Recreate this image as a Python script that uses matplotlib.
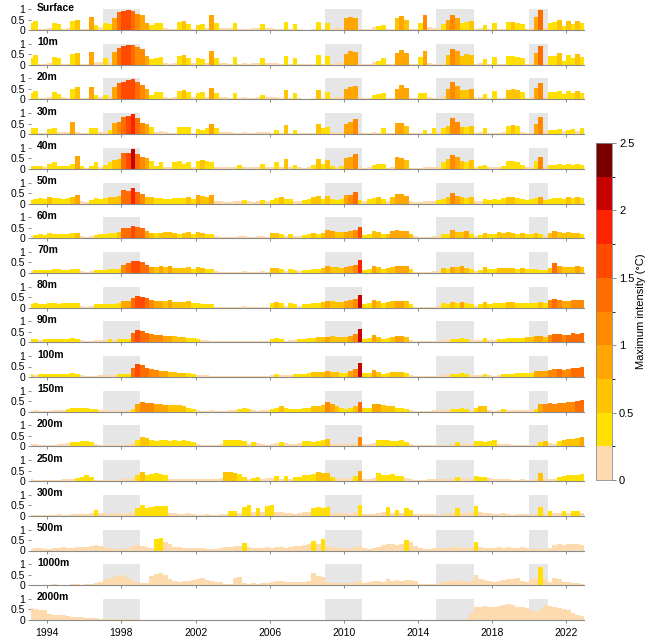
import numpy as np
import matplotlib

matplotlib.use("Agg")
import matplotlib.pyplot as plt
from matplotlib.cm import ScalarMappable
from matplotlib.colors import BoundaryNorm, ListedColormap

plt.rcParams["font.family"] = ["Liberation Sans", "DejaVu Sans"]

FIRST_YEAR = 1993  # quarterly values, Jan 1993 - Dec 2022
STEP = 0.25

DEPTHS = ["Surface", "10m", "20m", "30m", "40m", "50m", "60m", "70m", "80m",
          "90m", "100m", "150m", "200m", "250m", "300m", "500m", "1000m", "2000m"]

SHADED = [(1997, 1999), (2009, 2011), (2015, 2017), (2020, 2021)]
YEAR_TICKS = [1994, 1998, 2002, 2006, 2010, 2014, 2018, 2022]
BOUNDS = [0, 0.25, 0.5, 0.75, 1.0, 1.25, 1.5, 1.75, 2.0, 2.25, 2.5]
CBAR_TICKS = [0, 0.5, 1, 1.5, 2, 2.5]
COLORS = ["#fddbae", "#ffe000", "#ffc400", "#ffa600", "#ff8a00",
          "#ff6c00", "#ff4a00", "#ff2200", "#c80000", "#7a0000"]

# bar height per quarter
h_surface = [
    0.35, 0.45, 0.05, 0.05, 0.10, 0.35, 0.30, 0.05, 0.10, 0.45, 0.50, 0.05,
    0.05, 0.60, 0.25, 0.15, 0.35, 0.30, 0.55, 0.85, 0.90, 0.93, 0.90, 0.75,
    0.70, 0.35, 0.25, 0.35, 0.35, 0.10, 0.05, 0.05, 0.40, 0.45, 0.30, 0.05,
    0.25, 0.30, 0.10, 0.70, 0.35, 0.10, 0.10, 0.10, 0.35, 0.05, 0.05, 0.05,
    0.10, 0.10, 0.30, 0.10, 0.10, 0.05, 0.05, 0.40, 0.05, 0.30, 0.05, 0.02,
    0.02, 0.05, 0.40, 0.05, 0.35, 0.05, 0.15, 0.05, 0.55, 0.60, 0.55, 0.05,
    0.05, 0.05, 0.15, 0.20, 0.25, 0.05, 0.05, 0.55, 0.65, 0.50, 0.05, 0.05,
    0.35, 0.70, 0.15, 0.10, 0.05, 0.30, 0.50, 0.70, 0.55, 0.35, 0.40, 0.45,
    0.05, 0.10, 0.25, 0.05, 0.35, 0.05, 0.05, 0.40, 0.40, 0.35, 0.30, 0.05,
    0.10, 0.60, 0.95, 0.10, 0.35, 0.40, 0.50, 0.20, 0.45, 0.30, 0.45, 0.35,
]
# maximum intensity (deg C) per quarter
i_surface = [
    0.4, 0.4, 0.1, 0.1, 0.1, 0.4, 0.4, 0.1, 0.1, 0.4, 0.6, 0.1,
    0.1, 0.9, 0.4, 0.1, 0.4, 0.4, 0.9, 1.4, 1.6, 1.6, 1.4, 1.1,
    0.9, 0.9, 0.4, 0.4, 0.4, 0.1, 0.1, 0.1, 0.4, 0.6, 0.4, 0.1,
    0.4, 0.4, 0.1, 0.9, 0.4, 0.1, 0.1, 0.1, 0.4, 0.1, 0.1, 0.1,
    0.1, 0.1, 0.4, 0.1, 0.1, 0.1, 0.1, 0.4, 0.1, 0.4, 0.1, 0.1,
    0.1, 0.1, 0.4, 0.1, 0.4, 0.1, 0.1, 0.1, 0.9, 0.9, 0.9, 0.1,
    0.1, 0.1, 0.1, 0.4, 0.4, 0.1, 0.1, 0.6, 0.9, 0.6, 0.1, 0.1,
    0.4, 1.1, 0.1, 0.1, 0.1, 0.4, 0.9, 1.1, 0.9, 0.4, 0.4, 0.6,
    0.1, 0.1, 0.4, 0.1, 0.4, 0.1, 0.1, 0.4, 0.6, 0.4, 0.4, 0.1,
    0.1, 0.9, 1.4, 0.1, 0.4, 0.4, 0.6, 0.4, 0.6, 0.4, 0.6, 0.4,
]

h_10m = [
    0.30, 0.45, 0.05, 0.05, 0.10, 0.35, 0.30, 0.05, 0.05, 0.50, 0.55, 0.05,
    0.05, 0.60, 0.15, 0.15, 0.30, 0.10, 0.60, 0.80, 0.90, 0.92, 0.93, 0.85,
    0.75, 0.40, 0.25, 0.30, 0.35, 0.10, 0.05, 0.10, 0.40, 0.45, 0.30, 0.10,
    0.30, 0.25, 0.10, 0.65, 0.30, 0.10, 0.10, 0.05, 0.35, 0.05, 0.10, 0.05,
    0.10, 0.10, 0.30, 0.10, 0.10, 0.10, 0.05, 0.40, 0.05, 0.30, 0.05, 0.02,
    0.02, 0.05, 0.45, 0.05, 0.40, 0.05, 0.15, 0.10, 0.50, 0.65, 0.60, 0.05,
    0.05, 0.05, 0.15, 0.20, 0.30, 0.05, 0.05, 0.55, 0.70, 0.55, 0.05, 0.05,
    0.35, 0.65, 0.10, 0.05, 0.05, 0.10, 0.45, 0.75, 0.65, 0.40, 0.50, 0.45,
    0.05, 0.10, 0.25, 0.05, 0.35, 0.05, 0.05, 0.40, 0.40, 0.35, 0.30, 0.05,
    0.10, 0.55, 0.90, 0.10, 0.40, 0.40, 0.55, 0.20, 0.45, 0.30, 0.50, 0.35,
]
i_10m = [
    0.4, 0.4, 0.1, 0.1, 0.1, 0.4, 0.4, 0.1, 0.1, 0.4, 0.6, 0.1,
    0.1, 0.9, 0.1, 0.1, 0.4, 0.1, 0.9, 1.4, 1.6, 1.6, 1.4, 1.1,
    1.1, 0.9, 0.4, 0.4, 0.4, 0.1, 0.1, 0.1, 0.4, 0.6, 0.4, 0.1,
    0.4, 0.4, 0.1, 0.9, 0.4, 0.1, 0.1, 0.1, 0.4, 0.1, 0.1, 0.1,
    0.1, 0.1, 0.4, 0.1, 0.1, 0.1, 0.1, 0.4, 0.1, 0.4, 0.1, 0.1,
    0.1, 0.1, 0.4, 0.1, 0.4, 0.1, 0.1, 0.1, 0.9, 0.9, 0.9, 0.1,
    0.1, 0.1, 0.1, 0.4, 0.4, 0.1, 0.1, 0.9, 0.9, 0.9, 0.1, 0.1,
    0.4, 0.9, 0.1, 0.1, 0.1, 0.1, 0.6, 1.1, 0.9, 0.6, 0.6, 0.6,
    0.1, 0.1, 0.4, 0.1, 0.4, 0.1, 0.1, 0.4, 0.4, 0.4, 0.4, 0.1,
    0.1, 0.9, 1.4, 0.1, 0.4, 0.4, 0.6, 0.4, 0.4, 0.4, 0.6, 0.4,
]

h_20m = [
    0.30, 0.40, 0.05, 0.05, 0.10, 0.35, 0.25, 0.10, 0.05, 0.50, 0.60, 0.05,
    0.05, 0.60, 0.20, 0.10, 0.20, 0.15, 0.60, 0.80, 0.85, 0.90, 0.95, 0.85,
    0.70, 0.50, 0.20, 0.35, 0.35, 0.10, 0.05, 0.10, 0.40, 0.45, 0.35, 0.10,
    0.30, 0.35, 0.10, 0.55, 0.30, 0.10, 0.10, 0.05, 0.30, 0.05, 0.10, 0.05,
    0.05, 0.10, 0.20, 0.10, 0.10, 0.10, 0.05, 0.45, 0.05, 0.30, 0.05, 0.02,
    0.02, 0.05, 0.45, 0.05, 0.35, 0.05, 0.15, 0.10, 0.50, 0.60, 0.65, 0.05,
    0.05, 0.05, 0.20, 0.25, 0.30, 0.05, 0.05, 0.50, 0.70, 0.55, 0.05, 0.05,
    0.30, 0.30, 0.10, 0.05, 0.05, 0.15, 0.50, 0.85, 0.65, 0.45, 0.45, 0.50,
    0.05, 0.10, 0.25, 0.05, 0.40, 0.05, 0.05, 0.45, 0.50, 0.45, 0.35, 0.05,
    0.10, 0.55, 0.80, 0.10, 0.35, 0.35, 0.40, 0.25, 0.40, 0.30, 0.40, 0.30,
]
i_20m = [
    0.4, 0.4, 0.1, 0.1, 0.1, 0.4, 0.4, 0.1, 0.1, 0.4, 0.6, 0.1,
    0.1, 0.9, 0.4, 0.1, 0.4, 0.1, 0.9, 1.4, 1.6, 1.6, 1.6, 1.4,
    1.1, 0.9, 0.4, 0.4, 0.4, 0.1, 0.1, 0.1, 0.4, 0.6, 0.4, 0.1,
    0.4, 0.4, 0.1, 0.9, 0.4, 0.1, 0.1, 0.1, 0.4, 0.1, 0.1, 0.1,
    0.1, 0.1, 0.4, 0.1, 0.1, 0.1, 0.1, 0.6, 0.1, 0.4, 0.1, 0.1,
    0.1, 0.1, 0.6, 0.1, 0.4, 0.1, 0.1, 0.1, 0.9, 0.9, 0.9, 0.1,
    0.1, 0.1, 0.4, 0.4, 0.4, 0.1, 0.1, 0.9, 0.9, 0.9, 0.1, 0.1,
    0.4, 0.4, 0.1, 0.1, 0.1, 0.1, 0.9, 1.1, 0.9, 0.6, 0.6, 0.9,
    0.1, 0.1, 0.4, 0.1, 0.4, 0.1, 0.1, 0.6, 0.6, 0.6, 0.4, 0.1,
    0.1, 0.9, 1.1, 0.1, 0.4, 0.4, 0.4, 0.4, 0.4, 0.4, 0.6, 0.4,
]

h_30m = [
    0.30, 0.30, 0.05, 0.05, 0.25, 0.30, 0.10, 0.10, 0.10, 0.60, 0.10, 0.05,
    0.05, 0.30, 0.30, 0.10, 0.10, 0.20, 0.55, 0.60, 0.80, 0.85, 0.95, 0.75,
    0.55, 0.50, 0.35, 0.10, 0.15, 0.10, 0.05, 0.05, 0.35, 0.35, 0.35, 0.05,
    0.25, 0.20, 0.30, 0.50, 0.30, 0.10, 0.10, 0.10, 0.05, 0.05, 0.10, 0.05,
    0.05, 0.10, 0.10, 0.10, 0.05, 0.20, 0.05, 0.45, 0.05, 0.20, 0.05, 0.05,
    0.05, 0.05, 0.50, 0.30, 0.35, 0.10, 0.05, 0.10, 0.50, 0.60, 0.70, 0.10,
    0.05, 0.05, 0.10, 0.05, 0.30, 0.05, 0.05, 0.55, 0.55, 0.40, 0.05, 0.05,
    0.05, 0.20, 0.05, 0.30, 0.10, 0.30, 0.40, 0.75, 0.60, 0.35, 0.35, 0.40,
    0.05, 0.10, 0.30, 0.05, 0.05, 0.05, 0.10, 0.40, 0.45, 0.40, 0.10, 0.05,
    0.05, 0.50, 0.80, 0.10, 0.20, 0.20, 0.25, 0.15, 0.20, 0.25, 0.15, 0.30,
]
i_30m = [
    0.4, 0.4, 0.1, 0.1, 0.4, 0.4, 0.1, 0.1, 0.1, 0.9, 0.1, 0.1,
    0.1, 0.4, 0.4, 0.1, 0.1, 0.4, 0.9, 1.1, 1.4, 1.6, 1.9, 1.4,
    1.1, 0.9, 0.4, 0.1, 0.1, 0.1, 0.1, 0.1, 0.4, 0.4, 0.4, 0.1,
    0.4, 0.4, 0.4, 0.9, 0.4, 0.1, 0.1, 0.1, 0.1, 0.1, 0.1, 0.1,
    0.1, 0.1, 0.1, 0.1, 0.1, 0.4, 0.1, 0.6, 0.1, 0.4, 0.1, 0.1,
    0.1, 0.1, 0.6, 0.4, 0.4, 0.1, 0.1, 0.1, 0.9, 0.9, 1.1, 0.1,
    0.1, 0.1, 0.1, 0.1, 0.4, 0.1, 0.1, 0.9, 0.9, 0.6, 0.1, 0.1,
    0.1, 0.4, 0.1, 0.4, 0.1, 0.4, 0.6, 1.1, 1.1, 0.6, 0.4, 0.6,
    0.1, 0.1, 0.4, 0.1, 0.1, 0.1, 0.1, 0.4, 0.6, 0.4, 0.1, 0.1,
    0.1, 0.9, 1.1, 0.1, 0.4, 0.4, 0.4, 0.1, 0.4, 0.4, 0.1, 0.4,
]

h_40m = [
    0.15, 0.15, 0.15, 0.10, 0.25, 0.30, 0.15, 0.15, 0.15, 0.25, 0.60, 0.15,
    0.05, 0.15, 0.30, 0.10, 0.20, 0.30, 0.40, 0.45, 0.75, 0.75, 0.95, 0.70,
    0.55, 0.50, 0.35, 0.15, 0.30, 0.10, 0.10, 0.30, 0.35, 0.25, 0.30, 0.10,
    0.35, 0.40, 0.35, 0.30, 0.10, 0.10, 0.10, 0.10, 0.10, 0.20, 0.10, 0.10,
    0.10, 0.10, 0.25, 0.10, 0.10, 0.30, 0.10, 0.45, 0.10, 0.20, 0.10, 0.05,
    0.10, 0.20, 0.45, 0.25, 0.40, 0.15, 0.10, 0.15, 0.50, 0.55, 0.70, 0.10,
    0.05, 0.10, 0.20, 0.25, 0.25, 0.05, 0.10, 0.55, 0.50, 0.40, 0.05, 0.05,
    0.05, 0.10, 0.10, 0.10, 0.10, 0.30, 0.45, 0.65, 0.55, 0.35, 0.30, 0.40,
    0.10, 0.15, 0.20, 0.10, 0.10, 0.10, 0.15, 0.35, 0.35, 0.30, 0.20, 0.10,
    0.10, 0.35, 0.55, 0.10, 0.20, 0.20, 0.25, 0.20, 0.25, 0.20, 0.25, 0.20,
]
i_40m = [
    0.4, 0.4, 0.4, 0.1, 0.4, 0.4, 0.4, 0.4, 0.4, 0.4, 0.9, 0.4,
    0.1, 0.4, 0.4, 0.1, 0.4, 0.4, 0.6, 0.6, 1.4, 1.6, 2.1, 1.4,
    1.1, 0.9, 0.4, 0.4, 0.4, 0.1, 0.1, 0.4, 0.4, 0.4, 0.4, 0.1,
    0.4, 0.6, 0.4, 0.4, 0.1, 0.1, 0.1, 0.1, 0.1, 0.4, 0.1, 0.1,
    0.1, 0.1, 0.4, 0.1, 0.1, 0.4, 0.1, 0.6, 0.1, 0.4, 0.1, 0.1,
    0.1, 0.4, 0.6, 0.4, 0.6, 0.4, 0.1, 0.4, 0.9, 0.9, 1.1, 0.1,
    0.1, 0.1, 0.4, 0.4, 0.4, 0.1, 0.1, 0.9, 0.9, 0.6, 0.1, 0.1,
    0.1, 0.1, 0.1, 0.1, 0.1, 0.4, 0.6, 1.1, 0.9, 0.6, 0.4, 0.6,
    0.1, 0.4, 0.4, 0.1, 0.1, 0.1, 0.4, 0.4, 0.4, 0.4, 0.4, 0.1,
    0.1, 0.4, 1.1, 0.1, 0.4, 0.4, 0.4, 0.4, 0.4, 0.4, 0.4, 0.4,
]

h_50m = [
    0.15, 0.20, 0.25, 0.20, 0.30, 0.25, 0.25, 0.20, 0.25, 0.30, 0.40, 0.10,
    0.05, 0.15, 0.25, 0.20, 0.25, 0.30, 0.30, 0.35, 0.65, 0.60, 0.75, 0.55,
    0.45, 0.30, 0.30, 0.25, 0.25, 0.20, 0.20, 0.25, 0.25, 0.25, 0.30, 0.20,
    0.40, 0.35, 0.30, 0.40, 0.10, 0.10, 0.05, 0.05, 0.10, 0.10, 0.15, 0.10,
    0.05, 0.10, 0.15, 0.10, 0.15, 0.25, 0.30, 0.20, 0.20, 0.10, 0.10, 0.15,
    0.20, 0.30, 0.35, 0.20, 0.35, 0.20, 0.15, 0.20, 0.40, 0.40, 0.55, 0.15,
    0.10, 0.20, 0.25, 0.30, 0.20, 0.10, 0.30, 0.45, 0.45, 0.35, 0.10, 0.05,
    0.05, 0.10, 0.10, 0.10, 0.15, 0.20, 0.30, 0.50, 0.35, 0.30, 0.25, 0.30,
    0.10, 0.10, 0.20, 0.15, 0.20, 0.15, 0.25, 0.30, 0.30, 0.25, 0.20, 0.15,
    0.20, 0.25, 0.30, 0.15, 0.20, 0.25, 0.25, 0.20, 0.30, 0.25, 0.30, 0.25,
]
i_50m = [
    0.4, 0.4, 0.4, 0.4, 0.6, 0.4, 0.4, 0.4, 0.4, 0.6, 0.9, 0.1,
    0.1, 0.4, 0.4, 0.4, 0.4, 0.6, 0.6, 0.6, 1.4, 1.4, 1.9, 1.4,
    1.1, 0.6, 0.6, 0.4, 0.4, 0.4, 0.4, 0.4, 0.4, 0.4, 0.6, 0.4,
    0.9, 0.6, 0.6, 0.9, 0.1, 0.1, 0.1, 0.1, 0.1, 0.1, 0.4, 0.1,
    0.1, 0.1, 0.4, 0.1, 0.4, 0.4, 0.6, 0.4, 0.4, 0.1, 0.1, 0.4,
    0.4, 0.6, 0.6, 0.4, 0.6, 0.4, 0.4, 0.4, 0.9, 1.1, 1.4, 0.4,
    0.1, 0.4, 0.4, 0.6, 0.4, 0.1, 0.6, 0.9, 0.9, 0.9, 0.1, 0.1,
    0.1, 0.1, 0.1, 0.1, 0.4, 0.4, 0.6, 1.1, 0.9, 0.6, 0.4, 0.6,
    0.1, 0.1, 0.4, 0.4, 0.4, 0.4, 0.4, 0.6, 0.6, 0.4, 0.4, 0.4,
    0.4, 0.4, 0.9, 0.4, 0.4, 0.4, 0.4, 0.4, 0.6, 0.4, 0.6, 0.4,
]

h_60m = [
    0.10, 0.15, 0.20, 0.15, 0.25, 0.20, 0.20, 0.20, 0.20, 0.25, 0.25, 0.10,
    0.05, 0.10, 0.15, 0.20, 0.20, 0.25, 0.25, 0.30, 0.50, 0.50, 0.60, 0.55,
    0.50, 0.35, 0.25, 0.25, 0.25, 0.30, 0.30, 0.25, 0.20, 0.25, 0.30, 0.20,
    0.30, 0.25, 0.20, 0.20, 0.10, 0.05, 0.05, 0.05, 0.05, 0.10, 0.10, 0.05,
    0.05, 0.10, 0.10, 0.05, 0.25, 0.25, 0.20, 0.10, 0.20, 0.10, 0.10, 0.15,
    0.20, 0.25, 0.20, 0.25, 0.40, 0.35, 0.30, 0.30, 0.30, 0.35, 0.40, 0.55,
    0.15, 0.20, 0.35, 0.30, 0.20, 0.20, 0.35, 0.40, 0.35, 0.35, 0.20, 0.10,
    0.05, 0.05, 0.05, 0.10, 0.10, 0.20, 0.20, 0.40, 0.30, 0.30, 0.35, 0.20,
    0.10, 0.15, 0.25, 0.20, 0.20, 0.30, 0.25, 0.30, 0.25, 0.20, 0.25, 0.20,
    0.20, 0.25, 0.20, 0.10, 0.25, 0.35, 0.30, 0.25, 0.30, 0.25, 0.25, 0.20,
]
i_60m = [
    0.1, 0.4, 0.4, 0.4, 0.4, 0.4, 0.4, 0.4, 0.4, 0.4, 0.6, 0.1,
    0.1, 0.1, 0.4, 0.4, 0.4, 0.4, 0.4, 0.6, 1.4, 1.4, 1.6, 1.4,
    1.4, 0.9, 0.6, 0.4, 0.6, 0.6, 0.6, 0.6, 0.4, 0.6, 0.6, 0.4,
    0.6, 0.6, 0.4, 0.4, 0.1, 0.1, 0.1, 0.1, 0.1, 0.1, 0.1, 0.1,
    0.1, 0.1, 0.1, 0.1, 0.6, 0.6, 0.4, 0.1, 0.4, 0.1, 0.1, 0.4,
    0.4, 0.6, 0.4, 0.6, 0.9, 0.9, 0.6, 0.6, 0.9, 0.9, 1.1, 1.6,
    0.4, 0.4, 0.6, 0.6, 0.4, 0.6, 0.9, 0.9, 0.9, 0.9, 0.6, 0.1,
    0.1, 0.1, 0.1, 0.1, 0.1, 0.4, 0.4, 0.9, 0.6, 0.6, 0.9, 0.4,
    0.1, 0.4, 0.6, 0.4, 0.4, 0.6, 0.6, 0.6, 0.6, 0.4, 0.6, 0.4,
    0.4, 0.6, 0.4, 0.1, 0.6, 0.9, 0.6, 0.6, 0.6, 0.6, 0.6, 0.4,
]

h_70m = [
    0.10, 0.15, 0.15, 0.15, 0.15, 0.20, 0.20, 0.15, 0.15, 0.20, 0.20, 0.10,
    0.05, 0.10, 0.15, 0.15, 0.15, 0.20, 0.20, 0.20, 0.40, 0.45, 0.55, 0.55,
    0.50, 0.40, 0.30, 0.30, 0.35, 0.30, 0.35, 0.25, 0.25, 0.25, 0.30, 0.20,
    0.30, 0.25, 0.20, 0.20, 0.10, 0.05, 0.05, 0.05, 0.05, 0.05, 0.10, 0.05,
    0.05, 0.05, 0.10, 0.05, 0.25, 0.25, 0.20, 0.10, 0.20, 0.15, 0.10, 0.15,
    0.15, 0.20, 0.20, 0.25, 0.35, 0.30, 0.30, 0.25, 0.30, 0.35, 0.40, 0.60,
    0.15, 0.20, 0.35, 0.30, 0.20, 0.25, 0.30, 0.35, 0.35, 0.35, 0.20, 0.05,
    0.05, 0.05, 0.05, 0.10, 0.10, 0.25, 0.20, 0.30, 0.30, 0.35, 0.25, 0.20,
    0.10, 0.15, 0.30, 0.20, 0.20, 0.25, 0.25, 0.25, 0.25, 0.20, 0.25, 0.20,
    0.20, 0.20, 0.15, 0.15, 0.25, 0.45, 0.35, 0.30, 0.30, 0.30, 0.35, 0.30,
]
i_70m = [
    0.1, 0.4, 0.4, 0.4, 0.4, 0.4, 0.4, 0.4, 0.4, 0.4, 0.4, 0.1,
    0.1, 0.1, 0.4, 0.4, 0.4, 0.4, 0.4, 0.4, 1.1, 1.4, 1.6, 1.6,
    1.4, 1.4, 0.9, 0.6, 0.9, 0.6, 0.9, 0.6, 0.6, 0.6, 0.6, 0.4,
    0.6, 0.6, 0.4, 0.4, 0.1, 0.1, 0.1, 0.1, 0.1, 0.1, 0.1, 0.1,
    0.1, 0.1, 0.1, 0.1, 0.6, 0.6, 0.4, 0.1, 0.4, 0.4, 0.1, 0.4,
    0.4, 0.4, 0.4, 0.6, 0.9, 0.6, 0.6, 0.6, 0.9, 0.9, 1.1, 1.9,
    0.4, 0.4, 0.9, 0.6, 0.4, 0.6, 0.6, 0.9, 0.9, 0.9, 0.4, 0.1,
    0.1, 0.1, 0.1, 0.1, 0.1, 0.6, 0.4, 0.9, 0.6, 0.9, 0.6, 0.4,
    0.1, 0.4, 0.6, 0.4, 0.4, 0.6, 0.6, 0.6, 0.6, 0.4, 0.6, 0.4,
    0.4, 0.4, 0.4, 0.4, 0.6, 1.4, 0.9, 0.6, 0.6, 0.6, 0.9, 0.6,
]

h_80m = [
    0.15, 0.20, 0.15, 0.15, 0.20, 0.20, 0.15, 0.20, 0.20, 0.20, 0.20, 0.10,
    0.05, 0.10, 0.15, 0.15, 0.15, 0.15, 0.15, 0.20, 0.30, 0.30, 0.45, 0.55,
    0.50, 0.45, 0.35, 0.30, 0.30, 0.30, 0.35, 0.25, 0.25, 0.25, 0.30, 0.20,
    0.20, 0.15, 0.15, 0.15, 0.05, 0.05, 0.05, 0.05, 0.05, 0.05, 0.10, 0.05,
    0.05, 0.05, 0.05, 0.05, 0.20, 0.25, 0.20, 0.10, 0.20, 0.15, 0.10, 0.15,
    0.15, 0.20, 0.20, 0.25, 0.30, 0.30, 0.25, 0.25, 0.30, 0.35, 0.40, 0.60,
    0.15, 0.20, 0.35, 0.30, 0.20, 0.25, 0.30, 0.30, 0.30, 0.30, 0.15, 0.05,
    0.05, 0.05, 0.05, 0.05, 0.10, 0.20, 0.15, 0.25, 0.20, 0.25, 0.20, 0.15,
    0.10, 0.15, 0.25, 0.15, 0.20, 0.20, 0.20, 0.25, 0.25, 0.20, 0.20, 0.20,
    0.20, 0.20, 0.25, 0.20, 0.35, 0.40, 0.35, 0.30, 0.30, 0.35, 0.35, 0.35,
]
i_80m = [
    0.4, 0.4, 0.4, 0.4, 0.4, 0.4, 0.4, 0.4, 0.4, 0.4, 0.4, 0.1,
    0.1, 0.1, 0.4, 0.4, 0.4, 0.4, 0.4, 0.4, 0.9, 0.9, 1.4, 1.6,
    1.6, 1.4, 1.1, 0.9, 0.9, 0.6, 0.9, 0.6, 0.6, 0.6, 0.6, 0.4,
    0.4, 0.4, 0.4, 0.4, 0.1, 0.1, 0.1, 0.1, 0.1, 0.1, 0.1, 0.1,
    0.1, 0.1, 0.1, 0.1, 0.4, 0.6, 0.4, 0.1, 0.4, 0.4, 0.1, 0.4,
    0.4, 0.4, 0.4, 0.6, 0.9, 0.6, 0.6, 0.6, 0.9, 0.9, 1.1, 2.1,
    0.4, 0.4, 0.9, 0.6, 0.4, 0.6, 0.6, 0.9, 0.9, 0.6, 0.4, 0.1,
    0.1, 0.1, 0.1, 0.1, 0.1, 0.4, 0.4, 0.6, 0.4, 0.9, 0.4, 0.4,
    0.1, 0.4, 0.6, 0.4, 0.4, 0.4, 0.4, 0.6, 0.6, 0.4, 0.4, 0.4,
    0.4, 0.4, 0.6, 0.4, 1.1, 1.4, 1.1, 0.9, 0.9, 1.1, 1.1, 1.1,
]

h_90m = [
    0.15, 0.15, 0.10, 0.15, 0.15, 0.15, 0.15, 0.15, 0.15, 0.20, 0.15, 0.10,
    0.05, 0.05, 0.10, 0.10, 0.10, 0.15, 0.10, 0.15, 0.15, 0.15, 0.45, 0.60,
    0.55, 0.45, 0.40, 0.35, 0.35, 0.30, 0.30, 0.30, 0.25, 0.25, 0.20, 0.20,
    0.15, 0.10, 0.10, 0.05, 0.05, 0.05, 0.05, 0.05, 0.05, 0.05, 0.05, 0.05,
    0.05, 0.05, 0.05, 0.05, 0.15, 0.20, 0.15, 0.05, 0.10, 0.10, 0.15, 0.15,
    0.20, 0.20, 0.25, 0.25, 0.25, 0.30, 0.25, 0.25, 0.25, 0.30, 0.40, 0.65,
    0.15, 0.20, 0.35, 0.25, 0.15, 0.20, 0.25, 0.30, 0.30, 0.25, 0.10, 0.05,
    0.05, 0.05, 0.05, 0.05, 0.05, 0.10, 0.10, 0.15, 0.15, 0.20, 0.15, 0.10,
    0.10, 0.10, 0.20, 0.10, 0.10, 0.15, 0.15, 0.20, 0.20, 0.20, 0.20, 0.25,
    0.25, 0.30, 0.30, 0.25, 0.35, 0.40, 0.40, 0.35, 0.35, 0.45, 0.40, 0.45,
]
i_90m = [
    0.4, 0.4, 0.1, 0.4, 0.4, 0.4, 0.4, 0.4, 0.4, 0.4, 0.4, 0.1,
    0.1, 0.1, 0.1, 0.1, 0.1, 0.4, 0.1, 0.4, 0.4, 0.4, 1.4, 1.6,
    1.4, 1.4, 1.1, 1.1, 1.1, 0.9, 0.9, 0.6, 0.6, 0.6, 0.4, 0.4,
    0.4, 0.1, 0.1, 0.1, 0.1, 0.1, 0.1, 0.1, 0.1, 0.1, 0.1, 0.1,
    0.1, 0.1, 0.1, 0.1, 0.4, 0.4, 0.4, 0.1, 0.1, 0.1, 0.4, 0.4,
    0.4, 0.4, 0.6, 0.6, 0.9, 0.6, 0.6, 0.6, 0.6, 0.9, 1.1, 2.1,
    0.4, 0.4, 0.9, 0.6, 0.4, 0.4, 0.6, 0.9, 0.9, 0.6, 0.1, 0.1,
    0.1, 0.1, 0.1, 0.1, 0.1, 0.1, 0.1, 0.4, 0.4, 0.4, 0.4, 0.1,
    0.1, 0.1, 0.4, 0.1, 0.1, 0.4, 0.4, 0.4, 0.4, 0.4, 0.4, 0.6,
    0.6, 0.9, 0.9, 0.6, 1.1, 1.4, 1.4, 1.1, 1.4, 1.4, 1.4, 1.4,
]

h_100m = [
    0.15, 0.10, 0.15, 0.15, 0.15, 0.15, 0.15, 0.15, 0.15, 0.20, 0.15, 0.10,
    0.05, 0.05, 0.05, 0.10, 0.10, 0.10, 0.10, 0.15, 0.15, 0.15, 0.45, 0.60,
    0.55, 0.45, 0.40, 0.35, 0.30, 0.30, 0.25, 0.25, 0.20, 0.20, 0.20, 0.15,
    0.10, 0.10, 0.10, 0.05, 0.05, 0.05, 0.05, 0.05, 0.05, 0.05, 0.05, 0.05,
    0.05, 0.05, 0.05, 0.05, 0.10, 0.15, 0.10, 0.10, 0.10, 0.15, 0.15, 0.15,
    0.20, 0.25, 0.25, 0.25, 0.30, 0.25, 0.25, 0.20, 0.20, 0.30, 0.40, 0.65,
    0.20, 0.20, 0.35, 0.25, 0.15, 0.20, 0.25, 0.25, 0.25, 0.20, 0.10, 0.05,
    0.05, 0.05, 0.05, 0.05, 0.05, 0.10, 0.10, 0.15, 0.15, 0.20, 0.15, 0.10,
    0.10, 0.10, 0.15, 0.10, 0.05, 0.10, 0.15, 0.15, 0.15, 0.20, 0.20, 0.20,
    0.20, 0.30, 0.30, 0.30, 0.35, 0.40, 0.40, 0.35, 0.40, 0.45, 0.45, 0.50,
]
i_100m = [
    0.4, 0.1, 0.4, 0.4, 0.4, 0.4, 0.4, 0.4, 0.4, 0.4, 0.4, 0.1,
    0.1, 0.1, 0.1, 0.1, 0.1, 0.1, 0.1, 0.4, 0.4, 0.4, 1.4, 1.6,
    1.4, 1.4, 1.1, 1.1, 0.9, 0.9, 0.6, 0.6, 0.6, 0.6, 0.4, 0.4,
    0.1, 0.1, 0.1, 0.1, 0.1, 0.1, 0.1, 0.1, 0.1, 0.1, 0.1, 0.1,
    0.1, 0.1, 0.1, 0.1, 0.1, 0.4, 0.1, 0.1, 0.1, 0.4, 0.4, 0.4,
    0.4, 0.6, 0.6, 0.6, 0.9, 0.6, 0.6, 0.4, 0.4, 0.9, 1.1, 2.1,
    0.4, 0.4, 0.9, 0.6, 0.4, 0.4, 0.6, 0.6, 0.6, 0.4, 0.1, 0.1,
    0.1, 0.1, 0.1, 0.1, 0.1, 0.1, 0.1, 0.4, 0.4, 0.4, 0.4, 0.1,
    0.1, 0.1, 0.4, 0.1, 0.1, 0.1, 0.4, 0.4, 0.4, 0.4, 0.4, 0.4,
    0.4, 0.9, 0.9, 0.9, 1.1, 1.1, 1.4, 1.1, 1.1, 1.4, 1.4, 1.4,
]

h_150m = [
    0.05, 0.10, 0.05, 0.05, 0.05, 0.10, 0.10, 0.10, 0.15, 0.20, 0.20, 0.20,
    0.20, 0.15, 0.15, 0.10, 0.10, 0.05, 0.05, 0.10, 0.05, 0.10, 0.15, 0.35,
    0.45, 0.40, 0.40, 0.35, 0.35, 0.30, 0.30, 0.30, 0.30, 0.25, 0.20, 0.15,
    0.10, 0.05, 0.05, 0.10, 0.05, 0.05, 0.05, 0.10, 0.10, 0.15, 0.20, 0.15,
    0.10, 0.05, 0.10, 0.10, 0.15, 0.20, 0.25, 0.20, 0.15, 0.15, 0.15, 0.20,
    0.20, 0.25, 0.25, 0.30, 0.45, 0.35, 0.25, 0.20, 0.15, 0.20, 0.25, 0.45,
    0.20, 0.20, 0.35, 0.35, 0.30, 0.25, 0.25, 0.20, 0.20, 0.15, 0.10, 0.05,
    0.05, 0.05, 0.05, 0.10, 0.10, 0.10, 0.10, 0.15, 0.15, 0.20, 0.15, 0.10,
    0.20, 0.25, 0.25, 0.10, 0.05, 0.10, 0.15, 0.10, 0.10, 0.10, 0.10, 0.10,
    0.10, 0.15, 0.35, 0.35, 0.40, 0.35, 0.40, 0.40, 0.45, 0.45, 0.50, 0.55,
]
i_150m = [
    0.1, 0.1, 0.1, 0.1, 0.1, 0.1, 0.1, 0.1, 0.4, 0.4, 0.4, 0.4,
    0.4, 0.4, 0.4, 0.1, 0.1, 0.1, 0.1, 0.1, 0.1, 0.1, 0.4, 0.9,
    1.1, 1.1, 1.1, 0.9, 0.9, 0.9, 0.6, 0.6, 0.6, 0.6, 0.4, 0.4,
    0.1, 0.1, 0.1, 0.1, 0.1, 0.1, 0.1, 0.1, 0.1, 0.4, 0.4, 0.4,
    0.1, 0.1, 0.1, 0.1, 0.4, 0.4, 0.6, 0.4, 0.4, 0.4, 0.4, 0.4,
    0.4, 0.6, 0.6, 0.6, 1.1, 0.9, 0.6, 0.4, 0.4, 0.4, 0.6, 1.4,
    0.4, 0.4, 0.9, 0.9, 0.6, 0.6, 0.6, 0.4, 0.4, 0.4, 0.1, 0.1,
    0.1, 0.1, 0.1, 0.1, 0.1, 0.1, 0.1, 0.4, 0.4, 0.4, 0.4, 0.1,
    0.4, 0.6, 0.6, 0.1, 0.1, 0.1, 0.4, 0.1, 0.1, 0.1, 0.1, 0.1,
    0.1, 0.4, 0.9, 1.1, 1.1, 1.1, 1.1, 1.1, 1.1, 1.1, 1.4, 1.4,
]

h_200m = [
    0.10, 0.10, 0.05, 0.05, 0.05, 0.05, 0.10, 0.10, 0.15, 0.20, 0.20, 0.25,
    0.25, 0.20, 0.10, 0.05, 0.05, 0.05, 0.05, 0.05, 0.05, 0.10, 0.15, 0.30,
    0.45, 0.40, 0.30, 0.25, 0.30, 0.30, 0.25, 0.30, 0.25, 0.30, 0.25, 0.20,
    0.10, 0.05, 0.05, 0.05, 0.05, 0.10, 0.30, 0.30, 0.30, 0.30, 0.25, 0.10,
    0.20, 0.15, 0.10, 0.05, 0.10, 0.15, 0.20, 0.15, 0.10, 0.10, 0.15, 0.25,
    0.25, 0.20, 0.25, 0.30, 0.35, 0.10, 0.10, 0.10, 0.10, 0.10, 0.15, 0.45,
    0.10, 0.10, 0.15, 0.30, 0.30, 0.30, 0.25, 0.25, 0.30, 0.20, 0.10, 0.05,
    0.05, 0.05, 0.05, 0.05, 0.05, 0.05, 0.05, 0.10, 0.20, 0.10, 0.10, 0.10,
    0.25, 0.25, 0.20, 0.25, 0.30, 0.10, 0.10, 0.10, 0.05, 0.05, 0.05, 0.05,
    0.05, 0.10, 0.20, 0.25, 0.15, 0.10, 0.25, 0.30, 0.35, 0.35, 0.40, 0.45,
]
i_200m = [
    0.1, 0.1, 0.1, 0.1, 0.1, 0.1, 0.1, 0.1, 0.1, 0.4, 0.4, 0.4,
    0.4, 0.4, 0.1, 0.1, 0.1, 0.1, 0.1, 0.1, 0.1, 0.1, 0.1, 0.4,
    0.6, 0.6, 0.4, 0.4, 0.4, 0.4, 0.4, 0.4, 0.4, 0.4, 0.4, 0.4,
    0.1, 0.1, 0.1, 0.1, 0.1, 0.1, 0.4, 0.4, 0.4, 0.4, 0.4, 0.1,
    0.4, 0.1, 0.1, 0.1, 0.1, 0.1, 0.4, 0.1, 0.1, 0.1, 0.1, 0.4,
    0.4, 0.4, 0.4, 0.4, 0.6, 0.1, 0.1, 0.1, 0.1, 0.1, 0.1, 1.1,
    0.1, 0.1, 0.1, 0.4, 0.4, 0.4, 0.4, 0.4, 0.4, 0.4, 0.1, 0.1,
    0.1, 0.1, 0.1, 0.1, 0.1, 0.1, 0.1, 0.1, 0.4, 0.1, 0.1, 0.1,
    0.4, 0.4, 0.4, 0.4, 0.4, 0.1, 0.1, 0.1, 0.1, 0.1, 0.1, 0.1,
    0.1, 0.1, 0.4, 0.6, 0.1, 0.1, 0.4, 0.6, 0.6, 0.6, 0.6, 0.9,
]

h_250m = [
    0.10, 0.05, 0.05, 0.05, 0.05, 0.05, 0.05, 0.10, 0.10, 0.10, 0.15, 0.20,
    0.30, 0.20, 0.05, 0.05, 0.05, 0.05, 0.05, 0.05, 0.10, 0.10, 0.15, 0.30,
    0.45, 0.30, 0.35, 0.40, 0.35, 0.30, 0.10, 0.10, 0.10, 0.10, 0.10, 0.10,
    0.10, 0.10, 0.10, 0.10, 0.10, 0.15, 0.45, 0.45, 0.40, 0.35, 0.20, 0.10,
    0.15, 0.20, 0.10, 0.15, 0.15, 0.25, 0.10, 0.25, 0.10, 0.20, 0.20, 0.30,
    0.30, 0.35, 0.45, 0.40, 0.40, 0.20, 0.15, 0.15, 0.10, 0.15, 0.25, 0.50,
    0.10, 0.10, 0.15, 0.40, 0.30, 0.30, 0.35, 0.25, 0.25, 0.15, 0.10, 0.05,
    0.05, 0.05, 0.10, 0.10, 0.10, 0.10, 0.10, 0.10, 0.20, 0.15, 0.15, 0.10,
    0.25, 0.20, 0.20, 0.15, 0.10, 0.10, 0.10, 0.10, 0.05, 0.05, 0.10, 0.05,
    0.05, 0.10, 0.40, 0.10, 0.10, 0.10, 0.20, 0.25, 0.30, 0.30, 0.30, 0.35,
]
i_250m = [
    0.1, 0.1, 0.1, 0.1, 0.1, 0.1, 0.1, 0.1, 0.1, 0.1, 0.4, 0.4,
    0.4, 0.4, 0.1, 0.1, 0.1, 0.1, 0.1, 0.1, 0.1, 0.1, 0.1, 0.4,
    0.6, 0.4, 0.4, 0.4, 0.4, 0.4, 0.1, 0.1, 0.1, 0.1, 0.1, 0.1,
    0.1, 0.1, 0.1, 0.1, 0.1, 0.1, 0.6, 0.6, 0.6, 0.4, 0.4, 0.1,
    0.4, 0.4, 0.1, 0.1, 0.1, 0.4, 0.1, 0.4, 0.1, 0.4, 0.4, 0.4,
    0.4, 0.4, 0.6, 0.6, 0.6, 0.4, 0.1, 0.1, 0.1, 0.1, 0.4, 0.9,
    0.1, 0.1, 0.1, 0.4, 0.4, 0.4, 0.4, 0.4, 0.4, 0.1, 0.1, 0.1,
    0.1, 0.1, 0.1, 0.1, 0.1, 0.1, 0.1, 0.1, 0.4, 0.1, 0.1, 0.1,
    0.4, 0.4, 0.4, 0.1, 0.1, 0.1, 0.1, 0.1, 0.1, 0.1, 0.1, 0.1,
    0.1, 0.1, 0.6, 0.1, 0.1, 0.1, 0.4, 0.4, 0.4, 0.4, 0.4, 0.4,
]

h_300m = [
    0.05, 0.05, 0.05, 0.05, 0.05, 0.05, 0.10, 0.05, 0.05, 0.10, 0.10, 0.10,
    0.10, 0.15, 0.30, 0.15, 0.15, 0.10, 0.15, 0.15, 0.10, 0.15, 0.15, 0.35,
    0.50, 0.35, 0.40, 0.45, 0.45, 0.45, 0.15, 0.15, 0.10, 0.10, 0.15, 0.10,
    0.05, 0.05, 0.10, 0.05, 0.05, 0.10, 0.10, 0.25, 0.25, 0.15, 0.40, 0.50,
    0.20, 0.35, 0.20, 0.45, 0.50, 0.20, 0.20, 0.15, 0.15, 0.10, 0.15, 0.20,
    0.20, 0.35, 0.40, 0.35, 0.40, 0.15, 0.15, 0.15, 0.15, 0.10, 0.20, 0.50,
    0.10, 0.10, 0.10, 0.15, 0.20, 0.40, 0.15, 0.30, 0.15, 0.35, 0.30, 0.10,
    0.10, 0.10, 0.10, 0.10, 0.05, 0.10, 0.15, 0.15, 0.35, 0.15, 0.15, 0.20,
    0.45, 0.20, 0.15, 0.15, 0.10, 0.10, 0.15, 0.10, 0.05, 0.10, 0.10, 0.10,
    0.05, 0.10, 0.40, 0.10, 0.25, 0.15, 0.15, 0.25, 0.15, 0.25, 0.25, 0.15,
]
i_300m = [
    0.1, 0.1, 0.1, 0.1, 0.1, 0.1, 0.1, 0.1, 0.1, 0.1, 0.1, 0.1,
    0.1, 0.1, 0.4, 0.1, 0.1, 0.1, 0.1, 0.1, 0.1, 0.1, 0.1, 0.4,
    0.4, 0.4, 0.4, 0.4, 0.4, 0.4, 0.1, 0.1, 0.1, 0.1, 0.1, 0.1,
    0.1, 0.1, 0.1, 0.1, 0.1, 0.1, 0.1, 0.4, 0.4, 0.1, 0.4, 0.4,
    0.1, 0.4, 0.1, 0.4, 0.4, 0.1, 0.1, 0.1, 0.1, 0.1, 0.1, 0.1,
    0.1, 0.4, 0.4, 0.4, 0.4, 0.1, 0.1, 0.1, 0.1, 0.1, 0.1, 0.4,
    0.1, 0.1, 0.1, 0.1, 0.1, 0.4, 0.1, 0.4, 0.1, 0.4, 0.4, 0.1,
    0.1, 0.1, 0.1, 0.1, 0.1, 0.1, 0.1, 0.1, 0.4, 0.1, 0.1, 0.1,
    0.4, 0.1, 0.1, 0.1, 0.1, 0.1, 0.1, 0.1, 0.1, 0.1, 0.1, 0.1,
    0.1, 0.1, 0.4, 0.1, 0.4, 0.1, 0.1, 0.4, 0.1, 0.4, 0.4, 0.1,
]

h_500m = [
    0.05, 0.10, 0.10, 0.05, 0.05, 0.10, 0.10, 0.15, 0.10, 0.10, 0.15, 0.15,
    0.15, 0.20, 0.25, 0.20, 0.15, 0.10, 0.05, 0.05, 0.05, 0.10, 0.20, 0.25,
    0.20, 0.15, 0.10, 0.55, 0.60, 0.40, 0.30, 0.15, 0.15, 0.10, 0.10, 0.10,
    0.10, 0.10, 0.05, 0.05, 0.05, 0.10, 0.15, 0.15, 0.20, 0.20, 0.35, 0.15,
    0.10, 0.10, 0.10, 0.15, 0.10, 0.15, 0.15, 0.10, 0.15, 0.20, 0.20, 0.25,
    0.30, 0.45, 0.30, 0.55, 0.20, 0.15, 0.10, 0.10, 0.10, 0.05, 0.15, 0.20,
    0.10, 0.05, 0.10, 0.15, 0.25, 0.30, 0.30, 0.25, 0.30, 0.50, 0.40, 0.20,
    0.10, 0.05, 0.05, 0.10, 0.10, 0.10, 0.10, 0.15, 0.15, 0.10, 0.10, 0.15,
    0.40, 0.15, 0.10, 0.10, 0.10, 0.15, 0.10, 0.15, 0.10, 0.10, 0.15, 0.10,
    0.05, 0.05, 0.05, 0.05, 0.10, 0.25, 0.30, 0.25, 0.30, 0.30, 0.30, 0.25,
]
i_500m = [
    0.1, 0.1, 0.1, 0.1, 0.1, 0.1, 0.1, 0.1, 0.1, 0.1, 0.1, 0.1,
    0.1, 0.1, 0.1, 0.1, 0.1, 0.1, 0.1, 0.1, 0.1, 0.1, 0.1, 0.1,
    0.1, 0.1, 0.1, 0.4, 0.4, 0.1, 0.1, 0.1, 0.1, 0.1, 0.1, 0.1,
    0.1, 0.1, 0.1, 0.1, 0.1, 0.1, 0.1, 0.1, 0.1, 0.1, 0.4, 0.1,
    0.1, 0.1, 0.1, 0.1, 0.1, 0.1, 0.1, 0.1, 0.1, 0.1, 0.1, 0.1,
    0.1, 0.4, 0.1, 0.4, 0.1, 0.1, 0.1, 0.1, 0.1, 0.1, 0.1, 0.1,
    0.1, 0.1, 0.1, 0.1, 0.1, 0.1, 0.1, 0.1, 0.1, 0.4, 0.1, 0.1,
    0.1, 0.1, 0.1, 0.1, 0.1, 0.1, 0.1, 0.1, 0.1, 0.1, 0.1, 0.1,
    0.4, 0.1, 0.1, 0.1, 0.1, 0.1, 0.1, 0.1, 0.1, 0.1, 0.1, 0.1,
    0.1, 0.1, 0.1, 0.1, 0.1, 0.1, 0.1, 0.1, 0.1, 0.1, 0.1, 0.1,
]

h_1000m = [
    0.02, 0.02, 0.02, 0.03, 0.03, 0.05, 0.03, 0.03, 0.03, 0.05, 0.05, 0.03,
    0.05, 0.05, 0.10, 0.15, 0.30, 0.35, 0.40, 0.45, 0.50, 0.35, 0.20, 0.15,
    0.10, 0.10, 0.45, 0.55, 0.60, 0.50, 0.30, 0.20, 0.15, 0.20, 0.20, 0.25,
    0.30, 0.35, 0.25, 0.20, 0.15, 0.15, 0.05, 0.05, 0.35, 0.40, 0.10, 0.05,
    0.10, 0.05, 0.10, 0.10, 0.15, 0.20, 0.20, 0.15, 0.15, 0.15, 0.15, 0.15,
    0.20, 0.60, 0.45, 0.40, 0.15, 0.10, 0.10, 0.10, 0.10, 0.10, 0.15, 0.20,
    0.10, 0.15, 0.20, 0.20, 0.15, 0.30, 0.20, 0.25, 0.20, 0.25, 0.25, 0.20,
    0.05, 0.05, 0.05, 0.05, 0.10, 0.15, 0.20, 0.20, 0.25, 0.20, 0.20, 0.20,
    0.50, 0.30, 0.25, 0.20, 0.15, 0.20, 0.25, 0.30, 0.30, 0.35, 0.20, 0.15,
    0.30, 0.35, 0.85, 0.30, 0.15, 0.35, 0.30, 0.15, 0.15, 0.10, 0.10, 0.05,
]
i_1000m = [
    0.1, 0.1, 0.1, 0.1, 0.1, 0.1, 0.1, 0.1, 0.1, 0.1, 0.1, 0.1,
    0.1, 0.1, 0.1, 0.1, 0.1, 0.1, 0.1, 0.1, 0.1, 0.1, 0.1, 0.1,
    0.1, 0.1, 0.1, 0.1, 0.1, 0.1, 0.1, 0.1, 0.1, 0.1, 0.1, 0.1,
    0.1, 0.1, 0.1, 0.1, 0.1, 0.1, 0.1, 0.1, 0.1, 0.1, 0.1, 0.1,
    0.1, 0.1, 0.1, 0.1, 0.1, 0.1, 0.1, 0.1, 0.1, 0.1, 0.1, 0.1,
    0.1, 0.1, 0.1, 0.1, 0.1, 0.1, 0.1, 0.1, 0.1, 0.1, 0.1, 0.1,
    0.1, 0.1, 0.1, 0.1, 0.1, 0.1, 0.1, 0.1, 0.1, 0.1, 0.1, 0.1,
    0.1, 0.1, 0.1, 0.1, 0.1, 0.1, 0.1, 0.1, 0.1, 0.1, 0.1, 0.1,
    0.1, 0.1, 0.1, 0.1, 0.1, 0.1, 0.1, 0.1, 0.1, 0.1, 0.1, 0.1,
    0.1, 0.1, 0.4, 0.1, 0.1, 0.1, 0.1, 0.1, 0.1, 0.1, 0.1, 0.1,
]

h_2000m = [
    0.55, 0.50, 0.45, 0.45, 0.30, 0.25, 0.25, 0.25, 0.20, 0.15, 0.15, 0.15,
    0.10, 0.10, 0.10, 0.05, 0.05, 0.05, 0.03, 0.03, 0.03, 0.05, 0.02, 0.02,
    0.01, 0.01, 0.00, 0.00, 0.00, 0.00, 0.00, 0.01, 0.00, 0.00, 0.00, 0.00,
    0.00, 0.00, 0.00, 0.00, 0.00, 0.00, 0.00, 0.00, 0.00, 0.00, 0.00, 0.00,
    0.00, 0.00, 0.00, 0.00, 0.00, 0.00, 0.00, 0.00, 0.00, 0.00, 0.00, 0.00,
    0.00, 0.00, 0.00, 0.00, 0.00, 0.00, 0.00, 0.00, 0.00, 0.00, 0.00, 0.00,
    0.00, 0.00, 0.00, 0.00, 0.00, 0.00, 0.00, 0.00, 0.00, 0.00, 0.00, 0.00,
    0.00, 0.00, 0.00, 0.00, 0.00, 0.01, 0.01, 0.00, 0.00, 0.00, 0.05, 0.35,
    0.60, 0.60, 0.65, 0.60, 0.60, 0.65, 0.70, 0.75, 0.70, 0.60, 0.60, 0.55,
    0.45, 0.40, 0.50, 0.70, 0.65, 0.60, 0.55, 0.50, 0.45, 0.35, 0.25, 0.20,
]
i_2000m = [
    0.1, 0.1, 0.1, 0.1, 0.1, 0.1, 0.1, 0.1, 0.1, 0.1, 0.1, 0.1,
    0.1, 0.1, 0.1, 0.1, 0.1, 0.1, 0.1, 0.1, 0.1, 0.1, 0.1, 0.1,
    0.1, 0.1, 0.1, 0.1, 0.1, 0.1, 0.1, 0.1, 0.1, 0.1, 0.1, 0.1,
    0.1, 0.1, 0.1, 0.1, 0.1, 0.1, 0.1, 0.1, 0.1, 0.1, 0.1, 0.1,
    0.1, 0.1, 0.1, 0.1, 0.1, 0.1, 0.1, 0.1, 0.1, 0.1, 0.1, 0.1,
    0.1, 0.1, 0.1, 0.1, 0.1, 0.1, 0.1, 0.1, 0.1, 0.1, 0.1, 0.1,
    0.1, 0.1, 0.1, 0.1, 0.1, 0.1, 0.1, 0.1, 0.1, 0.1, 0.1, 0.1,
    0.1, 0.1, 0.1, 0.1, 0.1, 0.1, 0.1, 0.1, 0.1, 0.1, 0.1, 0.1,
    0.1, 0.1, 0.1, 0.1, 0.1, 0.1, 0.1, 0.1, 0.1, 0.1, 0.1, 0.1,
    0.1, 0.1, 0.1, 0.1, 0.1, 0.1, 0.1, 0.1, 0.1, 0.1, 0.1, 0.1,
]

HEIGHTS = [h_surface, h_10m, h_20m, h_30m, h_40m, h_50m, h_60m, h_70m, h_80m,
           h_90m, h_100m, h_150m, h_200m, h_250m, h_300m, h_500m, h_1000m, h_2000m]
INTENSITY = [i_surface, i_10m, i_20m, i_30m, i_40m, i_50m, i_60m, i_70m, i_80m,
             i_90m, i_100m, i_150m, i_200m, i_250m, i_300m, i_500m, i_1000m, i_2000m]

# layout in pixels of the 650x641 figure
FIG_W, FIG_H = 650, 641
LEFT, WIDTH = 31, 553
FIRST_BASE, GAP = 30, 34.7
UNIT = 21
YMAX = 1.25


def panel_rect(i):
    base = FIRST_BASE + GAP * i
    return [LEFT / FIG_W, 1 - base / FIG_H, WIDTH / FIG_W, YMAX * UNIT / FIG_H]


def draw_panel(ax, name, heights, intensity, cmap, norm, last):
    x = FIRST_YEAR + STEP * np.arange(len(heights))
    for x0, x1 in SHADED:
        ax.fill_between([x0, x1], 0, 1, color="#e6e6e6", linewidth=0, zorder=0)
    ax.bar(x, heights, width=STEP, align="edge", color=cmap(norm(intensity)),
           linewidth=0, zorder=2)
    ax.set_xlim(1993.12, 2022.96)
    ax.set_ylim(0, YMAX)

    for side in ["top", "right", "left"]:
        ax.spines[side].set_visible(False)
    ax.spines["bottom"].set_color("#8a8a8a")
    ax.spines["bottom"].set_linewidth(0.8)
    ax.spines["bottom"].set_zorder(3)

    ax.set_yticks([0, 0.5, 1])
    ax.set_yticklabels(["0", "0.5", "1"])
    ax.set_xticks(YEAR_TICKS)
    ax.tick_params(axis="y", length=2.5, width=0.6, color="#777777", pad=1.5, labelsize=7.5)
    ax.tick_params(axis="x", length=2.5, width=0.6, color="#777777", pad=3, labelsize=7.5,
                   labelbottom=last)
    ax.patch.set_alpha(0)

    ax.text(0.011, 1.07, name, transform=ax.get_yaxis_transform(), fontsize=7.5,
            fontweight="bold", ha="left", va="center")


def plot():
    cmap = ListedColormap(COLORS)
    norm = BoundaryNorm(BOUNDS, cmap.N)

    fig = plt.figure(figsize=(FIG_W / 100, FIG_H / 100), dpi=100)
    for i, name in enumerate(DEPTHS):
        ax = fig.add_axes(panel_rect(i))
        draw_panel(ax, name, HEIGHTS[i], INTENSITY[i], cmap, norm, i == len(DEPTHS) - 1)

    cax = fig.add_axes([596 / FIG_W, 1 - 480 / FIG_H, 16 / FIG_W, 337 / FIG_H])
    cb = fig.colorbar(ScalarMappable(norm=norm, cmap=cmap), cax=cax, ticks=CBAR_TICKS)
    cb.ax.set_yticklabels(["0", "0.5", "1", "1.5", "2", "2.5"])
    cb.ax.tick_params(labelsize=8, length=3, width=0.6, color="#777777", pad=2)
    cb.outline.set_edgecolor("#8a8a8a")
    cb.outline.set_linewidth(0.6)
    cb.set_label("Maximum intensity (°C)", fontsize=8, labelpad=1)

    fig.savefig("out.png", dpi=100)


if __name__ == "__main__":
    plot()
